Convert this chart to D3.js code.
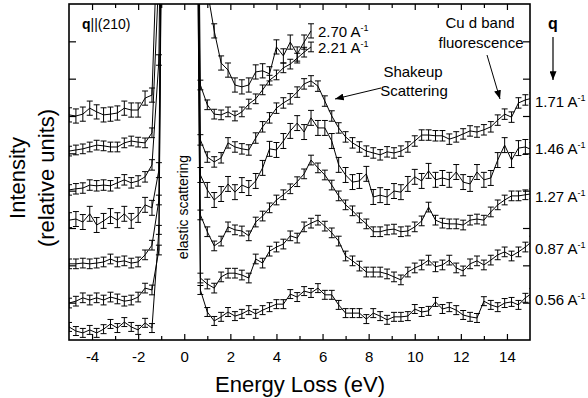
<!DOCTYPE html>
<html><head><meta charset="utf-8">
<script src="https://cdn.jsdelivr.net/npm/d3@7"></script>
<style>
html,body{margin:0;padding:0;background:#fff;}
svg{display:block;font-family:"Liberation Sans",Arial,Helvetica,sans-serif;}
</style></head><body>
<svg id="chart" width="588" height="398"></svg>
<script>
// ---------------- DATA ----------------
const energy = [-5.0,-4.7,-4.4,-4.1,-3.8,-3.5,-3.2,-2.9,-2.6,-2.3,-2.0,-1.7,-1.4,-1.1,
  -0.8,-0.5,-0.2,0.1,0.4,
  0.7,1.0,1.3,1.6,1.9,2.2,2.5,2.8,3.1,3.4,3.7,4.0,4.3,4.6,4.9,5.2,5.5,5.8,6.1,6.4,6.7,7.0,
  7.3,7.6,7.9,8.2,8.5,8.8,9.1,9.4,9.7,10.0,10.3,10.6,10.9,11.2,11.5,11.8,12.1,12.4,12.7,
  13.0,13.3,13.6,13.9,14.2,14.5,14.8,15.1];

const qLabels = ["0.56","0.87","1.27","1.46","1.71","2.21","2.70"];

const q056 = [0.35,0.24,0.19,0.27,0.19,0.29,0.43,0.32,0.48,0.35,0.27,0.46,0.32,2.95,
  25,60,80,60,25,
  1.34,0.75,0.51,0.62,0.75,0.64,0.70,0.80,0.70,0.80,0.88,0.96,0.96,1.23,1.15,1.31,1.26,1.39,1.21,1.21,0.94,0.72,
  0.72,0.72,0.56,0.72,0.64,0.54,0.62,0.62,0.64,0.83,0.75,0.78,1.02,0.83,0.88,0.80,0.67,0.62,0.59,
  1.04,0.94,0.88,0.99,1.02,0.94,1.13,1.26];
const q087 = [0.99,1.04,1.13,1.07,1.13,1.07,1.15,1.10,1.04,1.07,1.15,1.39,1.34,2.41,
  25,60,80,60,25,
  1.66,1.50,1.39,1.69,1.79,1.79,1.74,1.66,2.17,2.06,2.38,2.49,2.57,2.79,2.73,3.03,3.13,3.21,3.05,2.87,2.65,2.25,
  2.12,1.98,1.82,1.82,1.82,1.77,1.69,1.61,1.82,1.93,2.01,2.14,1.96,2.01,2.14,1.93,1.85,2.04,2.12,
  2.01,2.14,2.28,2.36,2.25,2.36,2.49,2.65];
const q127 = [2.04,2.04,2.06,2.04,2.06,2.09,2.17,2.09,2.12,2.06,2.09,2.28,2.54,3.75,
  25,60,80,60,25,
  3.35,2.90,2.52,2.65,3.03,2.95,2.92,2.79,3.16,3.32,3.54,3.75,3.89,4.05,4.24,4.45,4.82,4.61,4.42,4.15,3.86,3.62,
  3.46,3.27,3.11,2.90,2.90,2.95,2.97,2.90,2.92,3.03,3.19,3.56,3.21,3.13,3.11,3.11,3.08,3.21,3.24,
  3.21,3.43,3.62,3.75,3.86,3.86,3.89,3.92];
const q146 = [3.21,3.24,3.16,3.38,3.08,3.19,3.32,3.21,3.38,3.19,3.35,3.62,3.54,4.55,
  25,60,80,60,25,
  4.42,4.02,3.75,3.91,4.18,3.96,4.15,4.07,4.26,4.61,5.12,5.09,5.33,5.60,5.81,5.57,5.95,5.68,5.68,5.33,4.69,4.42,
  4.23,4.26,4.45,3.83,3.88,3.83,3.99,3.96,4.18,4.37,4.26,4.53,4.29,4.34,4.29,4.50,4.23,4.18,4.50,
  4.29,4.34,4.82,5.22,4.82,5.14,5.17,5.09];
const q171 = [4.02,4.05,4.07,4.15,4.13,4.15,4.13,4.21,4.29,4.21,4.26,4.37,4.69,7.50,
  25,60,80,60,25,
  5.36,4.90,4.77,4.88,5.28,5.17,5.12,5.09,5.41,5.71,5.95,6.21,6.35,6.46,6.64,6.86,6.94,6.80,6.40,6.00,5.68,5.44,
  5.28,5.17,5.06,5.01,4.96,5.04,5.01,5.06,5.17,5.33,5.49,5.49,5.47,5.47,5.38,5.44,5.52,5.60,5.57,
  5.63,5.71,5.89,6.05,5.97,6.35,6.43,6.48];
const q221 = [5.06,5.09,5.12,5.17,5.22,5.20,5.17,5.17,5.28,5.33,5.30,5.28,5.55,9.80,
  25,60,80,60,25,
  6.83,6.30,6.05,6.03,6.11,6.00,6.11,6.32,6.46,6.70,6.96,7.10,7.29,7.39,7.55,7.71,7.85];
const q270 = [6.03,6.00,6.05,6.21,6.11,6.03,6.05,6.08,6.21,6.16,6.16,6.48,6.56,12.0,
  25,60,80,60,25,
  14,9.38,8.28,7.42,7.23,6.83,6.78,6.83,7.18,7.21,7.13,7.85,7.61,7.98,7.66,7.98,8.28];

const errorSize = [0.12,0.13,0.13,0.20,0.14,0.13,0.19];

const xTicksMajor = [-4,-2,0,2,4,6,8,10,12,14];
const xTicksMinor = [-3,-1,1,3,5,7,9,11,13];
const yTicks = [1,2,3,4,5,6,7,8];

// ---------------- DRAW ----------------
const svg = d3.select("#chart");
const L = 69, R = 530, T = 4, B = 340;
const x = d3.scaleLinear().domain([-5, 15]).range([L, R]);
const y = d3.scaleLinear().domain([0, 9]).range([B, T]);

const defs = svg.append("defs");
defs.append("clipPath").attr("id","plotclip")
  .append("rect").attr("x",L).attr("y",T).attr("width",R-L).attr("height",B-T);
defs.append("marker").attr("id","arrow").attr("viewBox","0 0 10 8")
  .attr("refX",10).attr("refY",4).attr("markerWidth",9).attr("markerHeight",7)
  .attr("markerUnits","userSpaceOnUse").attr("orient","auto")
  .append("path").attr("d","M0,0L10,4L0,8Z").attr("fill","#000");

const seriesVals = [q056,q087,q127,q146,q171,q221,q270];
const series = seriesVals.map((vals,k) => ({
  label: qLabels[k],
  err: errorSize[k],
  pts: vals.map((v,i) => [energy[i], v])
}));

const plotG = svg.append("g").attr("clip-path","url(#plotclip)");
const line = d3.line().x(d => x(d[0])).y(d => y(d[1]));

series.forEach(s => {
  plotG.append("path").attr("d", line(s.pts))
    .attr("fill","none").attr("stroke","#000").attr("stroke-width",1);
  const eb = plotG.append("g").attr("stroke","#000").attr("stroke-width",1);
  s.pts.filter(p => p[1] < 9.6).forEach(p => {
    const cx = x(p[0]), y1 = y(p[1]-s.err), y2 = y(p[1]+s.err);
    eb.append("line").attr("x1",cx).attr("x2",cx).attr("y1",y1).attr("y2",y2);
    eb.append("line").attr("x1",cx-3).attr("x2",cx+3).attr("y1",y1).attr("y2",y1);
    eb.append("line").attr("x1",cx-3).attr("x2",cx+3).attr("y1",y2).attr("y2",y2);
  });
});

// axes
function styleAxis(g){
  g.select(".domain").remove();
  g.selectAll(".tick line").attr("stroke","#000").attr("stroke-width",1.2);
  g.selectAll("text").attr("font-size",15).attr("font-family","Liberation Sans, Arial, sans-serif").attr("fill","#000");
}
svg.append("g").attr("transform",`translate(0,${B})`)
  .call(d3.axisBottom(x).tickValues(xTicksMajor).tickSize(-6).tickPadding(11).tickFormat(d => String(d)))
  .call(styleAxis);
svg.append("g").attr("transform",`translate(0,${B})`)
  .call(d3.axisBottom(x).tickValues(xTicksMinor).tickSize(-4).tickFormat(""))
  .call(styleAxis);
svg.append("g").attr("transform",`translate(0,${T})`)
  .call(d3.axisTop(x).tickValues(xTicksMajor).tickSize(-6).tickFormat(""))
  .call(styleAxis);
svg.append("g").attr("transform",`translate(0,${T})`)
  .call(d3.axisTop(x).tickValues(xTicksMinor).tickSize(-4).tickFormat(""))
  .call(styleAxis);
svg.append("g").attr("transform",`translate(${L},0)`)
  .call(d3.axisLeft(y).tickValues(yTicks).tickSize(-7).tickFormat(""))
  .call(styleAxis);
svg.append("g").attr("transform",`translate(${R},0)`)
  .call(d3.axisRight(y).tickValues(yTicks).tickSize(-7).tickFormat(""))
  .call(styleAxis);

svg.append("rect").attr("x",L).attr("y",T).attr("width",R-L).attr("height",B-T)
  .attr("fill","none").attr("stroke","#000").attr("stroke-width",1.6);

// axis titles
svg.append("text").attr("x",300).attr("y",392).attr("text-anchor","middle")
  .attr("font-size",22).text("Energy Loss (eV)");
svg.append("text").attr("transform","translate(25,178) rotate(-90)").attr("text-anchor","middle")
  .attr("font-size",22).text("Intensity");
svg.append("text").attr("transform","translate(54,178) rotate(-90)").attr("text-anchor","middle")
  .attr("font-size",22).text("(relative units)");

// annotations
const qt = svg.append("text").attr("x",82).attr("y",29).attr("font-size",14);
qt.append("tspan").attr("font-weight","bold").text("q");
qt.append("tspan").text("||(210)");

svg.append("text").attr("transform","translate(188,207) rotate(-90)").attr("text-anchor","middle")
  .attr("font-size",14).text("elastic scattering");

svg.append("text").attr("x",413).attr("y",77).attr("text-anchor","middle").attr("font-size",15).text("Shakeup");
svg.append("text").attr("x",414).attr("y",96).attr("text-anchor","middle").attr("font-size",15).text("Scattering");
svg.append("text").attr("x",480).attr("y",28).attr("text-anchor","middle").attr("font-size",15).text("Cu d band");
svg.append("text").attr("x",481).attr("y",48).attr("text-anchor","middle").attr("font-size",15).text("fluorescence");

svg.append("line").attr("x1",381).attr("y1",88).attr("x2",335).attr("y2",99)
  .attr("stroke","#000").attr("stroke-width",1).attr("marker-end","url(#arrow)");
svg.append("line").attr("x1",487).attr("y1",55).attr("x2",500).attr("y2",99)
  .attr("stroke","#000").attr("stroke-width",1).attr("marker-end","url(#arrow)");

svg.append("text").attr("x",553).attr("y",29).attr("text-anchor","middle")
  .attr("font-size",16).attr("font-weight","bold").text("q");
svg.append("line").attr("x1",553).attr("y1",37).attr("x2",553).attr("y2",80)
  .attr("stroke","#000").attr("stroke-width",1.2).attr("marker-end","url(#arrow)");

// q labels at series ends
series.forEach(s => {
  const last = s.pts[s.pts.length-1];
  const full = last[0] > 15;
  const lx = full ? 535 : x(last[0]) + 7;
  const ly = full ? y(s.pts[s.pts.length-2][1]) + 7 : y(last[1]) + 6;
  const t = svg.append("text").attr("x",lx).attr("y",ly)
    .attr("font-family","'Liberation Sans Narrow','Arial Narrow',Liberation Sans,Arial,sans-serif")
    .attr("font-size",15);
  t.append("tspan").text(s.label + " A");
  t.append("tspan").attr("dy",-6).attr("font-size",9).text("-1");
});
</script>
</body></html>
